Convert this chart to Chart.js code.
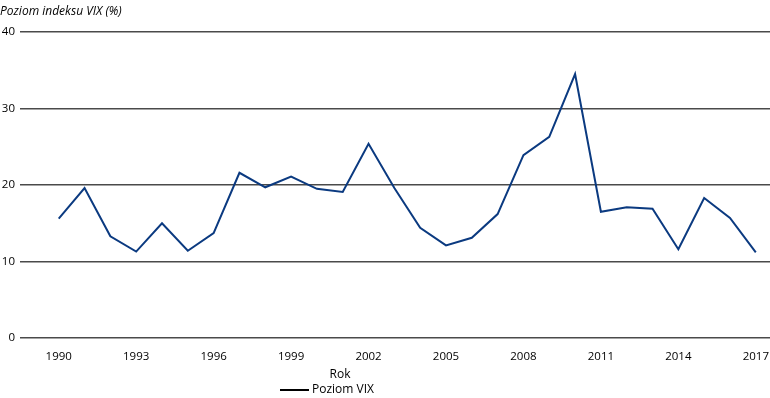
<!DOCTYPE html>
<html>
<head>
<meta charset="utf-8">
<script src="https://cdn.jsdelivr.net/npm/chart.js@4"></script>
<style>
  html, body { margin: 0; padding: 0; background: #fff; }
  canvas { display: block; }
</style>
</head>
<body>
<canvas id="vix-chart" width="770" height="398"></canvas>
<script>
const years = [1990, 1991, 1992, 1993, 1994, 1995, 1996, 1997, 1998, 1999,
  2000, 2001, 2002, 2003, 2004, 2005, 2006, 2007, 2008, 2009,
  2010, 2011, 2012, 2013, 2014, 2015, 2016, 2017];
const vixValues = [15.6, 19.6, 13.3, 11.3, 15.0, 11.4, 13.7, 21.6, 19.7, 21.1,
  19.5, 19.1, 25.4, 19.6, 14.4, 12.1, 13.1, 16.2, 23.9, 26.3,
  34.5, 16.5, 17.1, 16.9, 11.6, 18.3, 15.7, 11.2];
const xTickYears = [1990, 1993, 1996, 1999, 2002, 2005, 2008, 2011, 2014, 2017];
const yTicks = [0, 10, 20, 30, 40];
const seriesName = 'Poziom VIX';
const yTitle = 'Poziom indeksu VIX (%)';
const xTitle = 'Rok';

const fontFamily = "'Open Sans', 'Noto Sans', sans-serif";
const lineColor = '#0b3a80';
const gridColor = '#4a4a4a';

// tytuły osi i legenda rysowane ręcznie
const extraText = {
  id: 'extraText',
  afterDraw(chart) {
    const c = chart.ctx;
    c.save();
    c.fillStyle = '#000';
    c.textBaseline = 'middle';
    c.font = 'italic 12px ' + fontFamily;
    c.textAlign = 'left';
    c.fillText(yTitle, 0, 12);
    c.font = '12px ' + fontFamily;
    c.textAlign = 'center';
    c.fillText(xTitle, 340, 375);
    // legenda
    c.strokeStyle = '#000';
    c.lineWidth = 2;
    c.beginPath();
    c.moveTo(280, 390);
    c.lineTo(309, 390);
    c.stroke();
    c.textAlign = 'left';
    c.fillText(seriesName, 312, 390);
    c.restore();
  }
};

new Chart(document.getElementById('vix-chart'), {
  type: 'line',
  data: {
    datasets: [{
      label: seriesName,
      data: years.map((y, i) => ({ x: y, y: vixValues[i] })),
      borderColor: lineColor,
      borderWidth: 2,
      pointRadius: 0,
      tension: 0,
      fill: false
    }]
  },
  options: {
    responsive: false,
    animation: false,
    layout: { padding: { top: 32, right: 0, bottom: 0, left: 0 } },
    plugins: {
      legend: { display: false },
      tooltip: { enabled: false }
    },
    scales: {
      x: {
        type: 'linear',
        min: 1988.5,
        max: 2017.55,
        afterBuildTicks: (axis) => { axis.ticks = xTickYears.map(v => ({ value: v })); },
        afterFit: (axis) => {
          axis.height = 60;
          axis.paddingLeft = 0;
          axis.paddingRight = 0;
        },
        grid: { display: false, drawTicks: false },
        border: { display: false },
        ticks: {
          padding: 12,
          maxRotation: 0,
          autoSkip: false,
          color: '#000',
          font: { family: fontFamily, size: 11.5 },
          callback: (v) => String(v)
        }
      },
      y: {
        min: 0,
        max: 40,
        afterBuildTicks: (axis) => { axis.ticks = yTicks.map(v => ({ value: v })); },
        afterFit: (axis) => { axis.width = 20; },
        grid: { color: gridColor, lineWidth: 1.5, drawTicks: false },
        border: { display: false },
        ticks: {
          padding: 5,
          color: '#000',
          font: { family: fontFamily, size: 11.5 }
        }
      }
    }
  },
  plugins: [extraText]
});
</script>
</body>
</html>
